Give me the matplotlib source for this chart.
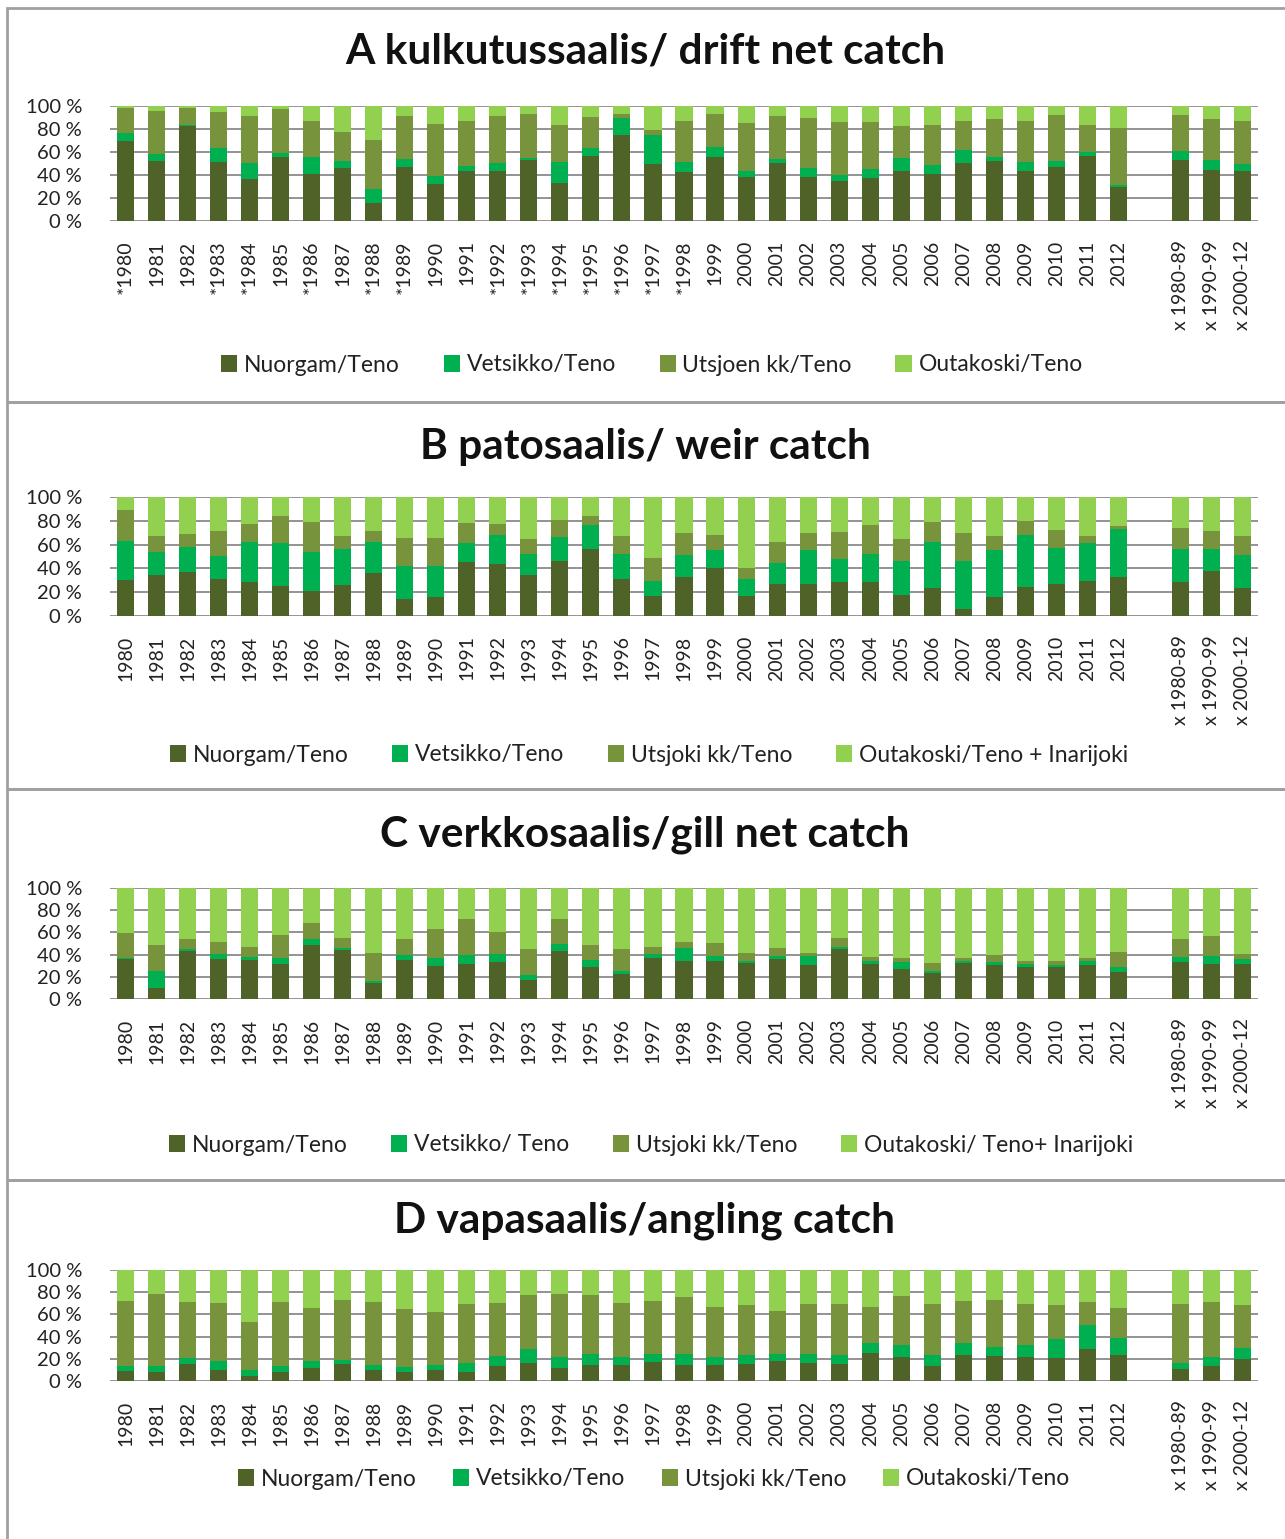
import numpy as np
import matplotlib
matplotlib.use('Agg')
import matplotlib.pyplot as plt
from matplotlib.patches import Rectangle, Patch

FONT = ['Lato', 'DejaVu Sans']
plt.rcParams['font.family'] = FONT

years = [str(y) for y in range(1980, 2013)]
agg_labels = ['x 1980-89', 'x 1990-99', 'x 2000-12']
marked_years_A = ['1980', '1983', '1984', '1986', '1988', '1989', '1992', '1993',
                  '1994', '1995', '1996', '1997', '1998']

colors = ['#4F6228', '#00B050', '#77933C', '#92D050']

# ---- Panel A: drift net catch (%), 1980..2012 then 1980-89, 1990-99, 2000-12
A_nuorgam = [69.6, 52.2, 82.3, 51.0, 36.2, 56.0, 41.2, 46.4, 16.0, 47.2, 32.5, 43.2, 43.2, 53.0, 33.3, 56.5, 74.8, 49.3,
             42.3, 56.0, 38.3, 50.1, 38.3, 34.5, 37.4, 43.2, 41.2, 50.1, 52.2, 43.2, 47.2, 56.8, 29.9,
             53.0, 44.3, 43.2]
A_vetsikko = [6.9, 5.8, 1.2, 12.8, 13.9, 3.4, 14.8, 5.8, 11.8, 7.0, 6.9, 4.9, 6.9, 1.8, 17.7, 7.3, 14.5, 25.5,
              8.7, 8.6, 4.9, 3.8, 7.8, 5.5, 7.8, 11.6, 7.8, 11.6, 3.8, 7.8, 5.0, 2.9, 1.7,
              7.9, 8.7, 6.1]
A_utsjoki = [21.8, 38.0, 14.8, 31.2, 41.2, 37.7, 31.2, 25.5, 42.9, 37.1, 44.9, 39.1, 41.2, 38.2, 32.5, 26.3, 3.7, 4.6,
             36.2, 28.4, 42.0, 37.4, 43.2, 46.4, 41.2, 27.8, 34.5, 25.5, 32.4, 36.2, 40.0, 23.8, 49.0,
             31.3, 35.4, 37.9]
A_outakoski = [1.7, 4.0, 1.7, 5.0, 8.7, 2.9, 12.8, 22.3, 29.3, 8.7, 15.7, 12.8, 8.7, 7.0, 16.5, 9.9, 7.0, 20.6,
               12.8, 7.0, 14.8, 8.7, 10.7, 13.6, 13.6, 17.4, 16.5, 12.8, 11.6, 12.8, 7.8, 16.5, 19.4,
               7.8, 11.6, 12.8]

# ---- Panel B: weir catch (%)
B_nuorgam = [30.6, 34.3, 37.1, 31.5, 28.9, 25.3, 21.3, 26.1, 36.2, 14.3, 16.0, 45.2, 43.3, 34.3, 46.1, 56.2, 31.5, 17.1,
             32.6, 40.7, 17.1, 27.0, 27.0, 28.9, 28.9, 18.0, 23.3, 6.2, 16.3, 24.4, 27.0, 29.8, 32.6,
             28.9, 37.9, 23.3]
B_vetsikko = [32.6, 19.1, 20.8, 19.3, 33.5, 36.2, 32.9, 30.1, 26.2, 28.1, 26.4, 16.3, 24.7, 18.2, 19.9, 19.9, 21.0, 12.7,
              18.8, 14.4, 14.4, 17.4, 28.1, 19.1, 23.6, 28.1, 39.1, 39.9, 38.8, 43.6, 30.0, 31.7, 40.7,
              27.8, 18.8, 28.1]
B_utsjoki = [25.6, 13.5, 10.9, 20.8, 14.6, 22.8, 24.7, 10.7, 9.2, 22.8, 22.8, 16.3, 9.0, 11.8, 14.6, 8.2, 14.4, 19.1,
             18.3, 12.9, 9.2, 18.0, 14.6, 22.5, 23.6, 18.2, 16.5, 23.6, 11.8, 11.8, 15.5, 5.4, 2.0,
             17.5, 14.9, 15.5]
B_outakoski = [11.2, 33.1, 31.2, 28.4, 23.0, 15.7, 21.1, 33.1, 28.4, 34.8, 34.8, 22.2, 23.0, 35.7, 19.4, 15.7, 33.1, 51.1,
               30.3, 32.0, 59.3, 37.6, 30.3, 29.5, 23.9, 35.7, 21.1, 30.3, 33.1, 20.2, 27.5, 33.1, 24.7,
               25.8, 28.4, 33.1]

# ---- Panel C: gill net catch (%)
C_nuorgam = [35.7, 10.2, 42.9, 35.7, 34.8, 31.8, 48.9, 43.8, 14.4, 34.8, 29.7, 31.8, 33.6, 17.4, 42.9, 28.5, 22.5, 36.6,
             34.5, 34.5, 32.7, 35.7, 30.6, 45.0, 31.5, 27.3, 23.4, 32.7, 30.6, 28.5, 28.5, 30.6, 24.6,
             33.6, 31.5, 31.5]
C_vetsikko = [1.2, 15.3, 2.1, 5.1, 3.0, 5.1, 4.9, 2.1, 2.1, 5.1, 7.2, 8.1, 7.2, 4.2, 6.6, 6.3, 3.0, 4.2,
              11.4, 4.2, 1.8, 3.0, 8.1, 1.8, 3.0, 6.3, 2.1, 1.8, 3.0, 3.0, 2.1, 3.9, 3.9,
              4.2, 7.2, 4.2]
C_utsjoki = [22.3, 23.1, 8.8, 10.9, 9.0, 20.8, 14.4, 9.4, 24.9, 13.9, 26.2, 32.2, 19.3, 23.4, 22.6, 13.8, 19.5, 6.0,
             5.1, 11.4, 7.2, 7.2, 3.0, 8.5, 3.3, 3.0, 7.2, 2.1, 6.0, 3.0, 3.9, 2.1, 14.1,
             16.0, 18.4, 5.1]
C_outakoski = [40.8, 51.4, 46.2, 48.3, 53.2, 42.3, 31.8, 44.7, 58.6, 46.2, 36.9, 27.9, 39.9, 55.0, 27.9, 51.4, 55.0, 53.2,
               49.0, 49.9, 58.3, 54.1, 58.3, 44.7, 62.2, 63.4, 67.3, 63.4, 60.4, 65.5, 65.5, 63.4, 57.4,
               46.2, 42.9, 59.2]

# ---- Panel D: angling catch (%)
D_nuorgam = [9.0, 8.1, 15.3, 10.2, 4.5, 8.1, 11.7, 15.3, 10.2, 8.1, 10.2, 8.1, 13.5, 16.5, 11.7, 14.4, 14.4, 17.4,
             14.4, 14.4, 15.6, 18.3, 16.5, 15.6, 25.5, 21.6, 13.5, 23.7, 22.5, 21.6, 20.7, 28.5, 23.7,
             10.8, 13.5, 19.8]
D_vetsikko = [4.5, 5.4, 5.4, 7.8, 5.4, 5.4, 6.3, 3.9, 4.2, 4.5, 4.2, 8.4, 9.0, 12.3, 9.9, 10.2, 7.2, 7.2,
              10.2, 7.2, 8.1, 6.3, 8.1, 8.1, 8.4, 11.1, 10.2, 10.2, 8.1, 11.1, 16.8, 22.0, 14.7,
              5.7, 8.1, 10.2]
D_utsjoki = [58.6, 64.9, 50.5, 52.3, 43.0, 57.7, 47.8, 53.8, 56.8, 52.3, 47.8, 52.9, 47.8, 48.7, 56.8, 52.9, 48.7, 47.5,
             51.4, 45.4, 45.1, 38.5, 45.1, 46.0, 33.1, 44.2, 46.0, 38.2, 42.4, 37.0, 31.3, 20.7, 27.4,
             53.2, 49.6, 38.8]
D_outakoski = [27.9, 21.6, 28.8, 29.7, 47.1, 28.8, 34.2, 27.0, 28.8, 35.1, 37.8, 30.6, 29.7, 22.5, 21.6, 22.5, 29.7, 27.9,
               24.0, 33.0, 31.2, 36.9, 30.3, 30.3, 33.0, 23.1, 30.3, 27.9, 27.0, 30.3, 31.2, 28.8, 34.2,
               30.3, 28.8, 31.2]

titles = ['A kulkutussaalis/ drift net catch',
          'B patosaalis/ weir catch',
          'C verkkosaalis/gill net catch',
          'D vapasaalis/angling catch']
legends = [
    ['Nuorgam/Teno', 'Vetsikko/Teno', 'Utsjoen kk/Teno', 'Outakoski/Teno'],
    ['Nuorgam/Teno', 'Vetsikko/Teno', 'Utsjoki kk/Teno', 'Outakoski/Teno + Inarijoki'],
    ['Nuorgam/Teno', 'Vetsikko/ Teno', 'Utsjoki kk/Teno', 'Outakoski/ Teno+ Inarijoki'],
    ['Nuorgam/Teno', 'Vetsikko/Teno', 'Utsjoki kk/Teno', 'Outakoski/Teno'],
]
panels = [
    [A_nuorgam, A_vetsikko, A_utsjoki, A_outakoski],
    [B_nuorgam, B_vetsikko, B_utsjoki, B_outakoski],
    [C_nuorgam, C_vetsikko, C_utsjoki, C_outakoski],
    [D_nuorgam, D_vetsikko, D_utsjoki, D_outakoski],
]

W, H = 1285, 1539
fig = plt.figure(figsize=(W / 100, H / 100), dpi=100)
fig.patch.set_facecolor('white')

# layout in pixels
boxes = [(8, 402), (402, 789), (789, 1180), (1180, 1545)]
axes_px = [(106, 221), (497, 616), (888, 999), (1270, 1381)]  # (top, bottom)
title_y = [52, 447, 835, 1221]
legend_y = [365, 755, 1145, 1479]
legend_x = [652, 649, 651, 654]
legend_colsp = [1.9, 1.9, 1.9, 1.6]
ax_left, ax_right = 110, 1258

n_years = len(years)
positions = np.r_[np.arange(n_years), n_years + 1 + np.arange(len(agg_labels))]

for i in range(4):
    top, bot = boxes[i]
    fig.patches.append(Rectangle((7 / W, 1 - bot / H), (W + 20) / W, (bot - top) / H,
                                 transform=fig.transFigure, fill=False,
                                 edgecolor='#a0a0a0', linewidth=2, zorder=0))
    at, ab = axes_px[i]
    ax = fig.add_axes([ax_left / W, 1 - ab / H, (ax_right - ax_left) / W, (ab - at) / H])
    ax.set_facecolor('none')
    bottom = np.zeros(len(positions))
    for s, vals in enumerate(panels[i]):
        v = np.array(vals)
        ax.bar(positions, v, bottom=bottom, width=0.55, color=colors[s],
               label=legends[i][s], zorder=2, linewidth=0)
        bottom = bottom + v
    ax.set_xlim(-0.5, positions[-1] + 0.5)
    ax.set_ylim(0, 100)
    ax.set_yticks(np.arange(0, 101, 20))
    ax.set_yticklabels([f'{t} %' for t in range(0, 101, 20)])
    ax.yaxis.grid(True, color='#8a8a8a', linewidth=1.3, zorder=0)
    ax.set_axisbelow(True)
    for sp in ax.spines.values():
        sp.set_visible(False)
    if i == 0:
        labels = [('*' + y if y in marked_years_A else y) for y in years] + agg_labels
    else:
        labels = years + agg_labels
    ax.set_xticks(positions)
    ax.set_xticklabels(labels, rotation=90, ha='center', va='top')
    ax.tick_params(axis='x', length=0, pad=14, labelsize=14, colors='#222222')
    ax.tick_params(axis='y', length=0, pad=20, labelsize=14.5, colors='#222222')

    fig.text(645 / W, 1 - title_y[i] / H, titles[i], ha='center', va='center',
             fontsize=30.5, fontweight='bold', color='#111111')
    handles = [Patch(facecolor=colors[s], label=legends[i][s]) for s in range(4)]
    fig.legend(handles=handles, loc='center', bbox_to_anchor=(legend_x[i] / W, 1 - legend_y[i] / H),
               ncol=4, frameon=False, fontsize=16.5, handlelength=0.7, handleheight=0.7,
               handletextpad=0.3, columnspacing=legend_colsp[i], labelcolor='#222222')

fig.savefig('out.png', dpi=100, facecolor='white')
